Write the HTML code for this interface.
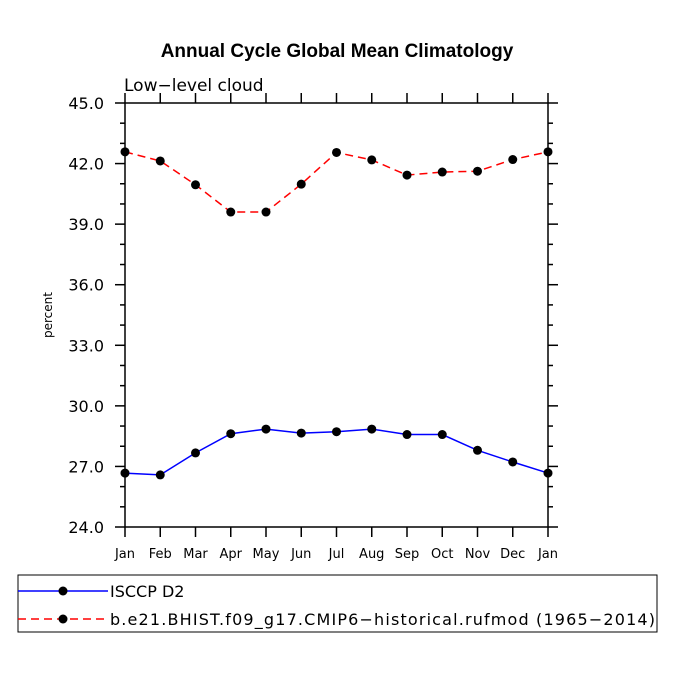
<!DOCTYPE html>
<html><head><meta charset="utf-8"><style>
body{margin:0;background:#fff}
svg{display:block;font-family:"DejaVu Sans","Liberation Sans",sans-serif}
</style></head><body>
<svg width="675" height="675">
<text x="337" y="57" text-anchor="middle" font-family="Liberation Sans, sans-serif" font-weight="bold" font-size="19">Annual Cycle Global Mean Climatology</text>
<text x="124" y="91" font-size="17" fill="#000">Low−level cloud</text>
<text transform="translate(52,315) rotate(-90)" text-anchor="middle" font-size="12">percent</text>
<g id="axes"></g>
<g id="series"></g>
<rect x="18" y="575" width="639" height="57" fill="none" stroke="#000"/>
<g>
<line x1="18" y1="591" x2="108" y2="591" stroke="#0000ff" stroke-width="1.5"/><circle cx="63" cy="591" r="4.5"/>
<text x="110" y="597" font-size="16">ISCCP D2</text></g>
<g>
<line x1="18" y1="619" x2="108" y2="619" stroke="#ff0000" stroke-width="1.5" stroke-dasharray="8,5"/><circle cx="63" cy="619" r="4.5"/>
<text x="110" y="625" font-size="16" textLength="545">b.e21.BHIST.f09_g17.CMIP6−historical.rufmod (1965−2014)</text></g>
</svg>
<script>
const months=["Jan","Feb","Mar","Apr","May","Jun","Jul","Aug","Sep","Oct","Nov","Dec","Jan"];
const yTicks=[24,27,30,33,36,39,42,45];
const isccp=[26.67,26.58,27.67,28.62,28.85,28.65,28.72,28.85,28.58,28.58,27.8,27.22,26.67];
const model=[42.58,42.13,40.95,39.6,39.6,40.98,42.55,42.18,41.43,41.58,41.62,42.2,42.58];
const L=125,R=548,T=103,B=527,yMin=24,yMax=45;
const X=i=>L+(R-L)*i/(months.length-1);
const Y=v=>B-(B-T)*(v-yMin)/(yMax-yMin);
const NS="http://www.w3.org/2000/svg";
function mk(t,a,p){const e=document.createElementNS(NS,t);for(const k in a)e.setAttribute(k,a[k]);p.appendChild(e);return e;}
const ax=document.getElementById('axes');
mk('rect',{x:L,y:T,width:R-L,height:B-T,fill:'none',stroke:'#000','stroke-width':1.5},ax);
months.forEach((m,i)=>{const x=X(i);
 mk('line',{x1:x,y1:B,x2:x,y2:B+10,stroke:'#000','stroke-width':1.5},ax);
 mk('line',{x1:x,y1:T,x2:x,y2:T-10,stroke:'#000','stroke-width':1.5},ax);
 const t=mk('text',{x:x,y:B+31,'text-anchor':'middle','font-size':13},ax);t.textContent=m;
 
 
});
for(let v=yMin;v<=yMax;v+=1){const y=Y(v);const maj=(v-yMin)%3===0;const len=maj?10:5;
 mk('line',{x1:L,y1:y,x2:L-len,y2:y,stroke:'#000','stroke-width':1.5},ax);
 mk('line',{x1:R,y1:y,x2:R+len,y2:y,stroke:'#000','stroke-width':1.5},ax);}
yTicks.forEach(v=>{const t=mk('text',{x:104,y:Y(v)+6,'text-anchor':'end','font-size':16},ax);t.textContent=v.toFixed(1);
 
 });
const sg=document.getElementById('series');
function draw(d,col,dash,name){
 const pl=mk('polyline',{points:d.map((v,i)=>X(i)+','+Y(v)).join(' '),fill:'none',stroke:col,'stroke-width':1.5,'stroke-dasharray':dash},sg);
 
 
 d.forEach((v,i)=>{const c=mk('circle',{cx:X(i),cy:Y(v),r:4.5,fill:'#000'},sg);
  
  });
}
draw(isccp,'#0000ff','none','isccp');
draw(model,'#ff0000','8,5','model');
</script>
</body></html>
